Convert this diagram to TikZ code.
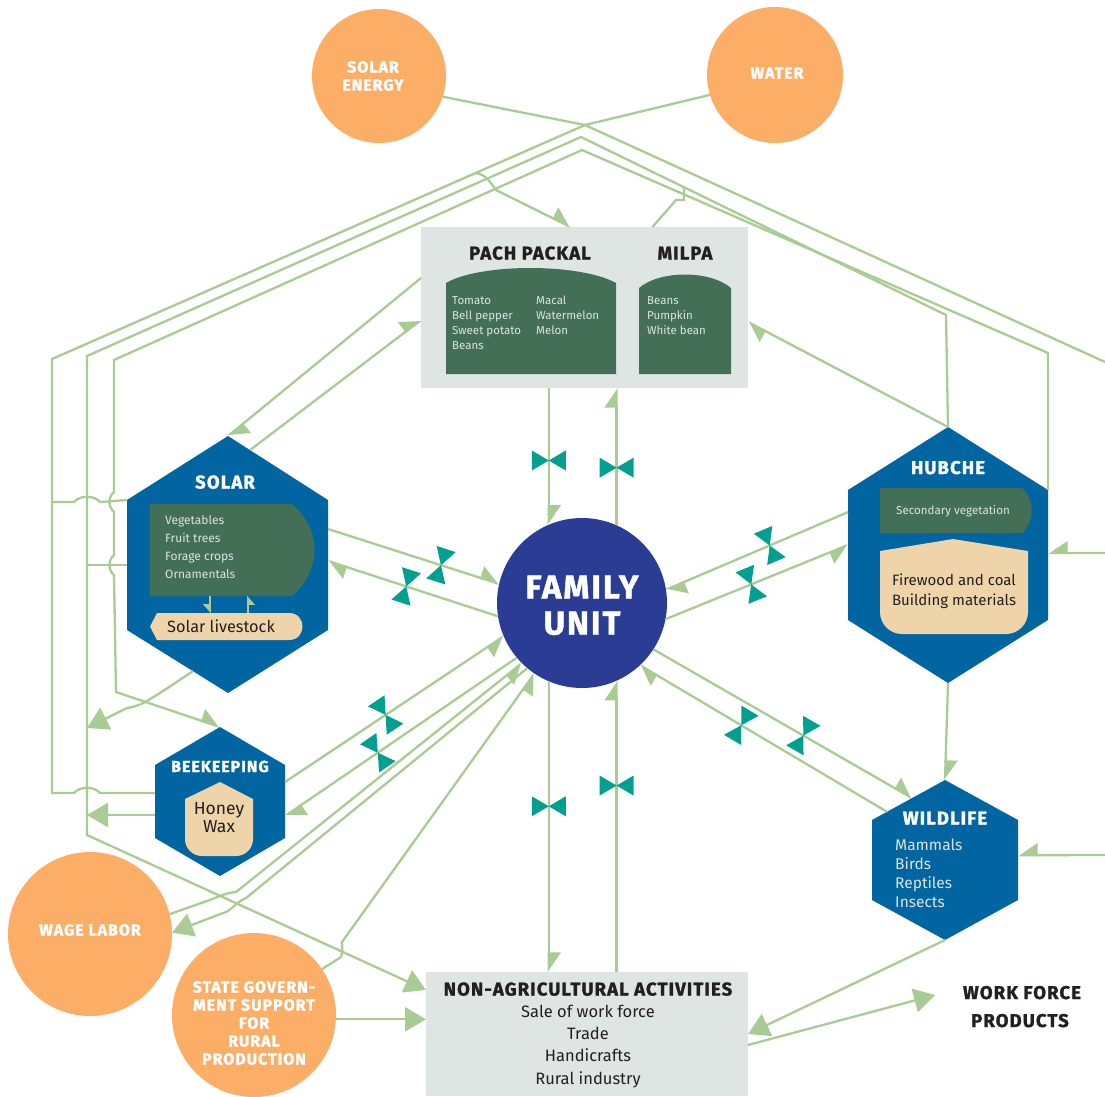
\documentclass[tikz,border=0pt]{standalone}
\usepackage{fontspec}
\setmainfont{Fira Sans}
\newfontfamily\heavyfont{Fira Sans}[BoldFeatures={FakeBold=1.4}, LetterSpace=6]
\usetikzlibrary{arrows.meta,calc,decorations.markings}

\definecolor{orng}{HTML}{FDAE66}
\definecolor{hexblue}{HTML}{0065A1}
\definecolor{famblue}{HTML}{2A3C93}
\definecolor{leaf}{HTML}{436F57}
\definecolor{boxgray}{HTML}{DFE5E2}
\definecolor{sand}{HTML}{EFD4AA}
\definecolor{flowgreen}{HTML}{A9CB94}
\definecolor{valvecol}{HTML}{00A091}
\definecolor{ink}{HTML}{231F20}
\definecolor{pale}{HTML}{DDE4E0}

\tikzset{
  link/.style={draw=flowgreen, line width=2.3pt},
  flow/.style={link, -{Triangle[left,length=18pt,width=24pt]}},
  flowr/.style={link, -{Triangle[right,length=18pt,width=24pt]}},
  flowfull/.style={link, -{Triangle[length=21pt,width=24pt]}},
  tinyflow/.style={draw=flowgreen, line width=1.6pt, -{Triangle[right,length=8pt,width=14pt]}},
  source/.style={circle, fill=orng, inner sep=0pt, outer sep=0pt},
  srctext/.style={text=white, font=\heavyfont\bfseries\fontsize{16}{18}\selectfont, inner sep=0pt, anchor=base},
  famcircle/.style={circle, fill=famblue, minimum size=170pt, inner sep=0pt, outer sep=0pt},
  famtext/.style={text=white, font=\heavyfont\bfseries\fontsize{33}{36}\selectfont, inner sep=0pt, anchor=base},
  hextitle/.style={text=white, font=\heavyfont\bfseries\fontsize{18.5}{20}\selectfont, inner sep=0pt, anchor=base},
  boxtitle/.style={text=ink, font=\heavyfont\bfseries\fontsize{18.5}{20}\selectfont, inner sep=0pt, anchor=base},
  listtext/.style={text=pale, font=\fontsize{11.5}{13}\selectfont, inner sep=0pt, anchor=base west},
  leaftext/.style={text=pale, font=\fontsize{12}{14}\selectfont, inner sep=0pt, anchor=base west},
  sandtext/.style={text=ink, font=\fontsize{15}{18}\selectfont, inner sep=0pt, anchor=base},
  wildtext/.style={text=pale, font=\fontsize{15.5}{18}\selectfont, inner sep=0pt, anchor=base west},
  valve/.style={postaction={decorate, decoration={markings, mark=at position #1 with
    {\fill[valvecol] (0pt,0pt) -- (-10pt,17pt) -- (10pt,17pt) -- cycle
                     (0pt,0pt) -- (-10pt,-17pt) -- (10pt,-17pt) -- cycle;}}}},
}

\begin{document}
\begin{tikzpicture}[x=1pt,y=-1pt]
  \useasboundingbox (0,0) rectangle (1105,1096);
  \fill[white] (0,0) rectangle (1105,1096);

  % corners of the long connectors
  \coordinate (wa-x) at (585,125);
  \coordinate (wa-c) at (52,359);
  \coordinate (wa-b) at (52,793);
  \coordinate (wa-j1) at (52,502);
  \coordinate (wa-j2) at (475,173);
  \coordinate (hb-a) at (946,315);
  \coordinate (hb-b) at (581,137);
  \coordinate (hb-c) at (87,356);
  \coordinate (hb-d) at (87,835);
  \coordinate (hb-j1) at (684,187);
  \coordinate (hb-j2) at (87,565);
  \coordinate (hb-j3) at (87,728);
  \coordinate (hc-a) at (1048,353);
  \coordinate (hc-b) at (582,150);
  \coordinate (hc-c) at (114,360);
  \coordinate (hc-d) at (116,692);
  \coordinate (edge-se) at (1105,362);
  \coordinate (edge-hub) at (1105,553);
  \coordinate (edge-wl) at (1105,855);
  \coordinate (work-in) at (935,995);

  % sources
  \node[source, minimum size=134pt] (sun) at (379,76) {};
  \node[source, minimum size=136pt] (water) at (775,75) {};
  \node[source, minimum size=164pt] (wage) at (90,934) {};
  \node[source, minimum size=164pt] (state) at (254,1015) {};
  \node[srctext] (sun-t1) at (373,72.5) {SOLAR};
  \node[srctext] (sun-t2) at (373,90.5) {ENERGY};
  \node[srctext] (water-t) at (777,78.5) {WATER};
  \node[srctext] (wage-t) at (90,935.5) {WAGE LABOR};
  \foreach \t [count=\i from 0] in {STATE GOVERN-, MENT SUPPORT, FOR, RURAL, PRODUCTION}
    \node[srctext] (state-t\i) at (254,{992.5+18*\i}) {\t};

  % pach packal and milpa
  \node[fill=boxgray, minimum width=327pt, minimum height=161pt, inner sep=0pt, outer sep=0pt] (pp) at (584.5,307.5) {};
  \fill[leaf] (446,374) -- (446,283) .. controls (480,263) and (580,263) .. (616,283) -- (616,374) -- cycle;
  \fill[leaf] (639,374) -- (639,288) .. controls (660,270) and (710,270) .. (731,288) -- (731,374) -- cycle;
  \node[boxtitle] (pp-t) at (530,259.5) {PACH PACKAL};
  \node[boxtitle] (milpa-t) at (685,259.5) {MILPA};
  \foreach \t [count=\i from 0] in {Tomato, Bell pepper, Sweet potato, Beans}
    \node[listtext] (pp-a\i) at (452,{304+15.3*\i}) {\t};
  \foreach \t [count=\i from 0] in {Macal, Watermelon, Melon}
    \node[listtext] (pp-b\i) at (536,{304+15.3*\i}) {\t};
  \foreach \t [count=\i from 0] in {Beans, Pumpkin, White bean}
    \node[listtext] (milpa-\i) at (647,{304+15.3*\i}) {\t};

  % solar
  \fill[hexblue] (228,436) coordinate (sol-n) -- (328,500) coordinate (sol-ne) -- (328,630) coordinate (sol-se)
    -- (228,693) coordinate (sol-s) -- (127,630) coordinate (sol-sw) -- (127,500) coordinate (sol-nw) -- cycle;
  \fill[leaf] (150,504) -- (292,504) .. controls (322,530) and (322,570) .. (292,596) -- (150,596) -- cycle;
  \fill[sand] (150,626.5) -- (157,613) -- (289,613) .. controls (307,613) and (307,640) .. (289,640) -- (157,640) -- cycle;
  \node[hextitle] (sol-t) at (225,488.5) {SOLAR};
  \foreach \t [count=\i from 0] in {Vegetables, Fruit trees, Forage crops, Ornamentals}
    \node[leaftext] (sol-l\i) at (165,{524+18.3*\i}) {\t};
  \node[sandtext, font=\fontsize{16.3}{18}\selectfont] (sol-lv) at (221,632) {Solar livestock};
  \coordinate (sol-g1) at (210,596);
  \coordinate (sol-g2) at (248,596);
  \draw[tinyflow] (sol-g1) -- (sol-g1 |- 0,613);
  \draw[tinyflow] (sol-g2 |- 0,613) -- (sol-g2);

  % hubche
  \fill[hexblue] (948,427) coordinate (hub-n) -- (1048,490) coordinate (hub-ne) -- (1048,620) coordinate (hub-se)
    -- (948,683) coordinate (hub-s) -- (848,620) coordinate (hub-sw) -- (848,490) coordinate (hub-nw) -- cycle;
  \fill[leaf] (880,488) -- (1022,488) .. controls (1035,500) and (1035,521) .. (1022,533) -- (880,533) -- cycle;
  \fill[sand] (880,551) -- (953,539) -- (1028,551) [rounded corners=22pt] -- (1028,634) -- (880,634) [sharp corners] -- cycle;
  \node[hextitle] (hub-t) at (948,474) {HUBCHE};
  \node[leaftext, font=\fontsize{11.6}{14}\selectfont, anchor=base] (hub-l) at (953,514) {Secondary vegetation};
  \node[sandtext] (hub-s1) at (954,585) {Firewood and coal};
  \node[sandtext] (hub-s2) at (954,605) {Building materials};

  % beekeeping
  \fill[hexblue] (220,727) coordinate (bee-n) -- (285,765) coordinate (bee-ne) -- (285,838) coordinate (bee-se)
    -- (220,876) coordinate (bee-s) -- (155,838) coordinate (bee-sw) -- (155,765) coordinate (bee-nw) -- cycle;
  \fill[sand] (220,782) -- (253,799) [rounded corners=17pt] -- (253,856) -- (185,856) [sharp corners] -- (185,799) -- cycle;
  \node[hextitle, font=\heavyfont\bfseries\fontsize{16}{18}\selectfont] (bee-t) at (220,772) {BEEKEEPING};
  \node[sandtext, font=\fontsize{17.5}{18}\selectfont] (bee-h) at (219,814) {Honey};
  \node[sandtext, font=\fontsize{17.5}{18}\selectfont] (bee-w) at (219,832) {Wax};

  % wildlife
  \fill[hexblue] (945,780) coordinate (wl-n) -- (1018,820) coordinate (wl-ne) -- (1018,900) coordinate (wl-se)
    -- (945,940) coordinate (wl-s) -- (872,900) coordinate (wl-sw) -- (872,820) coordinate (wl-nw) -- cycle;
  \node[hextitle] (wl-t) at (945,824.5) {WILDLIFE};
  \foreach \t [count=\i from 0] in {Mammals, Birds, Reptiles, Insects}
    \node[wildtext] (wl-l\i) at (895,{850+19.3*\i}) {\t};

  % family unit
  \node[famcircle] (fam) at (582,603) {};
  \node[famtext] (fam-t1) at (582,598.5) {FAMILY};
  \node[famtext] (fam-t2) at (582,634.5) {UNIT};

  % non-agricultural activities
  \node[fill=boxgray, minimum width=322pt, minimum height=124pt, inner sep=0pt, outer sep=0pt] (nonag) at (587,1034) {};
  \node[boxtitle] (nonag-t) at (588,995.5) {NON-AGRICULTURAL ACTIVITIES};
  \foreach \t [count=\i from 0] in {Sale of work force, Trade, Handicrafts, Rural industry}
    \node[sandtext, font=\fontsize{16.5}{18}\selectfont] (nonag-\i) at (588,{1017+22.4*\i}) {\t};
  \node[boxtitle] (work-t1) at (1022,999) {WORK FORCE};
  \node[boxtitle] (work-t2) at (1020,1027) {PRODUCTS};

  % points on the hexagon sides
  \coordinate (sol-e1) at ($(sol-ne)!0.223!(sol-se)$);
  \coordinate (sol-e2) at ($(sol-ne)!0.469!(sol-se)$);
  \coordinate (sol-n1) at ($(sol-n)!0.22!(sol-ne)$);
  \coordinate (sol-w) at ($(sol-nw)!0.5!(sol-sw)$);
  \coordinate (sol-s1) at ($(sol-s)!0.347!(sol-sw)$);
  \coordinate (hub-w1) at ($(hub-nw)!0.17!(hub-sw)$);
  \coordinate (hub-w2) at ($(hub-nw)!0.423!(hub-sw)$);
  \coordinate (hub-e) at ($(hub-ne)!0.485!(hub-se)$);
  \coordinate (wl-n1) at ($(wl-nw)!0.548!(wl-n)$);
  \coordinate (wl-n2) at ($(wl-nw)!0.205!(wl-n)$);
  \coordinate (wl-e) at ($(wl-ne)!0.44!(wl-se)$);
  \coordinate (bee-e1) at ($(bee-ne)!0.233!(bee-se)$);
  \coordinate (bee-e2) at ($(bee-ne)!0.70!(bee-se)$);
  \coordinate (bee-w1) at ($(bee-nw)!0.384!(bee-sw)$);
  \coordinate (bee-w2) at ($(bee-nw)!0.685!(bee-sw)$);

  % long connectors from the sources and hubche
  \draw[link] (sun.342) -- (wa-x) -- (edge-se);
  \draw[link] (water.197) -- (wa-x) -- (wa-c) -- (wa-b) -- (74,793) .. controls (80,786) and (94,786) .. (100,793) -- (bee-w1);
  \draw[link] (wa-j1) -- (74,502) .. controls (80,495) and (94,495) .. (100,502) -- (sol-nw);
  \draw[flow] (wa-j2) .. controls (487,174) and (491,184) .. (496,190) -- ([xshift=-14pt]pp.north);
  \draw[flowfull] (hub-n) -- (hb-a) -- (hb-b) -- (hb-c) -- (hb-d) -- ([yshift=-18pt]nonag.north west);
  \draw[link] (hb-j1) -- ++(0,13) -- ++(-8,0) -- ([xshift=68pt]pp.north);
  \draw[link] (hb-j2) -- (sol-w);
  \draw[flow] (hub-ne) -- (hc-a) -- (hc-b) -- (hc-c) -- (114,492) .. controls (108,497) and (108,507) .. (114,512)
    -- (114,555) .. controls (108,560) and (108,570) .. (114,575) -- (hc-d) -- (bee-n);
  \draw[flowfull] (sol-s1) -- (157,695) .. controls (150,698) and (145,705) .. (127,708) -- (hb-j3);
  \draw[flowfull] (bee-w2) -- (bee-w2 -| hb-c);
  \draw[flowr] (edge-hub) -- (hub-e);
  \draw[flowr] (edge-wl) -- (wl-e);

  % pach packal, milpa
  \draw[flow] ([yshift=29.5pt]pp.west) -- (sol-n);
  \draw[flow] (sol-n1) -- ([yshift=-12.5pt]pp.west);
  \draw[flow] (hub-n) -- ([yshift=-14.5pt]pp.east);
  \draw[flow, valve=0.53] (fam.113 |- pp.south) -- (fam.113);
  \draw[flow, valve=0.42] (fam.66) -- (fam.66 |- pp.south);

  % family unit exchanges
  \draw[flow, valve=0.66] (sol-e1) -- (fam.167);
  \draw[flow, valve=0.54] (fam.189) -- (sol-e2);
  \draw[flow, valve=0.43] (hub-w1) -- (fam.9);
  \draw[flowr, valve=0.47] (fam.349) -- (hub-w2);
  \draw[flow, valve=0.58] (fam.327) -- (wl-n1);
  \draw[flow, valve=0.59] (wl-n2) -- (fam.313);
  \draw[flow] (hub-s) -- (wl-n);
  \draw[flowr, valve=0.46] (bee-e1) -- (fam.203);
  \draw[flow, valve=0.60] (fam.220) -- (bee-e2);
  \draw[flowr] (wage.14) -- (204,902) .. controls (214,899) and (224,893) .. (236,892) -- (fam.225);
  \draw[flowfull] (fam.230) -- (246,898) .. controls (236,902) and (230,912) .. (223,913) -- (wage.1);
  \draw[flowr] (state.34) -- (341,957) .. controls (343,952) and (342,947) .. (342,942) -- (fam.236);
  \draw[flow, valve=0.43] (fam.247) -- (fam.247 |- nonag.north);
  \draw[flow, valve=0.64] (fam.294 |- nonag.north) -- (fam.294);

  % into and out of non-agricultural activities
  \draw[flowfull] (state.-3) -- (state.-3 -| nonag.west);
  \draw[flowfull] (wl-s) -- (nonag.east);
  \draw[flowfull] ([yshift=-11pt]nonag.east) -- (work-in);
\end{tikzpicture}
\end{document}
